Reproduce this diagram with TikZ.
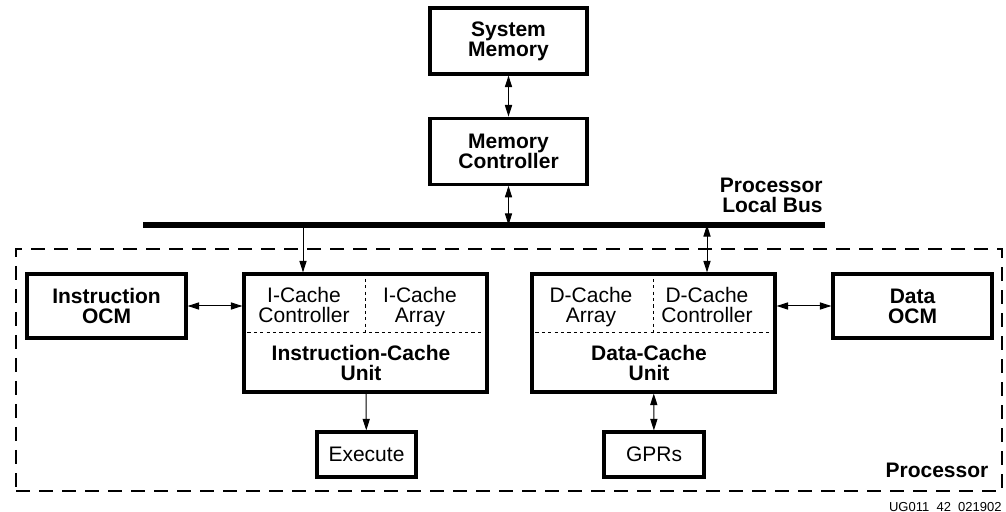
\documentclass[tikz,border=0pt]{standalone}
\usepackage{fontspec}
\setmainfont{Liberation Sans}
\usepackage{tikz}
\usetikzlibrary{positioning,calc,arrows.meta}

\begin{document}
\begin{tikzpicture}[
    x=0.5pt, y=-0.5pt,
    blk/.style={rectangle, draw=black, fill=white, line width=1.6pt, align=center,
                inner sep=1pt, font=\fontsize{10.5pt}{10pt}\selectfont\bfseries},
    plainblk/.style={blk, font=\fontsize{10.5pt}{10pt}\selectfont},
    cacheunit/.style={blk, minimum width=121.5pt, minimum height=59pt},
    ocm/.style={blk, minimum width=79.5pt, minimum height=32pt},
    sub/.style={align=center, inner sep=0pt, anchor=north, font=\fontsize{10.5pt}{10pt}\selectfont},
    subbold/.style={align=center, inner sep=0pt, font=\fontsize{10.5pt}{10pt}\selectfont\bfseries},
    divider/.style={line width=0.5pt, dash pattern=on 1.6pt off 1.6pt},
    arr/.style={-{Triangle[length=5.8pt,width=3.6pt]}, line width=0.5pt},
    biarr/.style={{Triangle[length=5.8pt,width=3.6pt]}-{Triangle[length=5.8pt,width=3.6pt]}, line width=0.5pt},
    bus/.style={line width=2.6pt},
    procbox/.style={rectangle, draw=black, line width=0.7pt, dash pattern=on 7pt off 4.5pt,
                    minimum width=493pt, minimum height=121pt}
]
\useasboundingbox (0,0) rectangle (1006,512);

% Processor boundary
\node[procbox] (proc) at (509,370) {};
\node[anchor=east, inner sep=0pt, font=\fontsize{10.5pt}{10pt}\selectfont\bfseries]
    (proclbl) at ([xshift=-7pt,yshift=10.5pt]proc.south east) {Processor};

% Memory side
\node[blk, minimum width=78.5pt, minimum height=33pt] (sysmem) at (508.5,41) {System\\Memory};
\node[blk, minimum width=78.5pt, minimum height=33pt, below=20.5pt of sysmem] (memctrl) {Memory\\Controller};

% Bus
\coordinate (busL) at (143,225);
\coordinate (busR) at (825,225);
\coordinate (tapI) at (303,225);
\coordinate (tapD) at (707,225);
\draw[bus] (busL) -- (busR);
\node[anchor=east, inner sep=0pt, align=right, font=\fontsize{10.5pt}{10pt}\selectfont\bfseries]
    (buslbl) at (823,195.5) {Processor\\Local Bus};

% Cache units
\node[cacheunit] (icache) at (365.5,333) {};
\node[cacheunit] (dcache) at (653.5,333) {};
\draw[divider] ([xshift=2.5pt]icache.west) -- ([xshift=-2.5pt]icache.east);
\draw[divider] (icache.north) -- (icache.center);
\draw[divider] ([xshift=2.5pt]dcache.west) -- ([xshift=-2.5pt]dcache.east);
\draw[divider] (dcache.north) -- (dcache.center);

\node[sub] (icctrl) at (304,287) {I-Cache\\Controller};
\node[sub] (icarr) at (420,287) {I-Cache\\Array};
\node[subbold] (iclbl) at (361,363) {Instruction-Cache\\Unit};
\node[sub] (dcarr) at (591,287) {D-Cache\\Array};
\node[sub] (dcctrl) at (707,287) {D-Cache\\Controller};
\node[subbold] (dclbl) at (649,363) {Data-Cache\\Unit};

% OCMs
\node[ocm] (iocm) at (106.5,306) {Instruction\\OCM};
\node[ocm] (docm) at (912.5,306) {Data\\OCM};

% Bottom blocks
\node[plainblk, minimum width=49.5pt, minimum height=22.5pt] (exec) at (366.5,454.5) {Execute};
\node[plainblk, minimum width=50pt, minimum height=22.5pt] (gprs) at (654,454.5) {GPRs};

% Connectors
\draw[biarr] (sysmem) -- (memctrl);
\draw[biarr] (memctrl) -- (memctrl |- busL);
\draw[arr] (tapI) -- (tapI |- icache.north);
\draw[biarr] (tapD) -- (tapD |- dcache.north);
\draw[biarr] (iocm) -- (iocm -| icache.west);
\draw[biarr] (docm) -- (docm -| dcache.east);
\draw[arr] (icache) -- (exec);
\draw[biarr] (dcache) -- (gprs);

% Figure tag
\node[anchor=east, inner sep=0pt, font=\fontsize{6.5pt}{7pt}\selectfont] (tag) at (1002,507) {UG011\ \ 42\ \ 021902};

\end{tikzpicture}
\end{document}
